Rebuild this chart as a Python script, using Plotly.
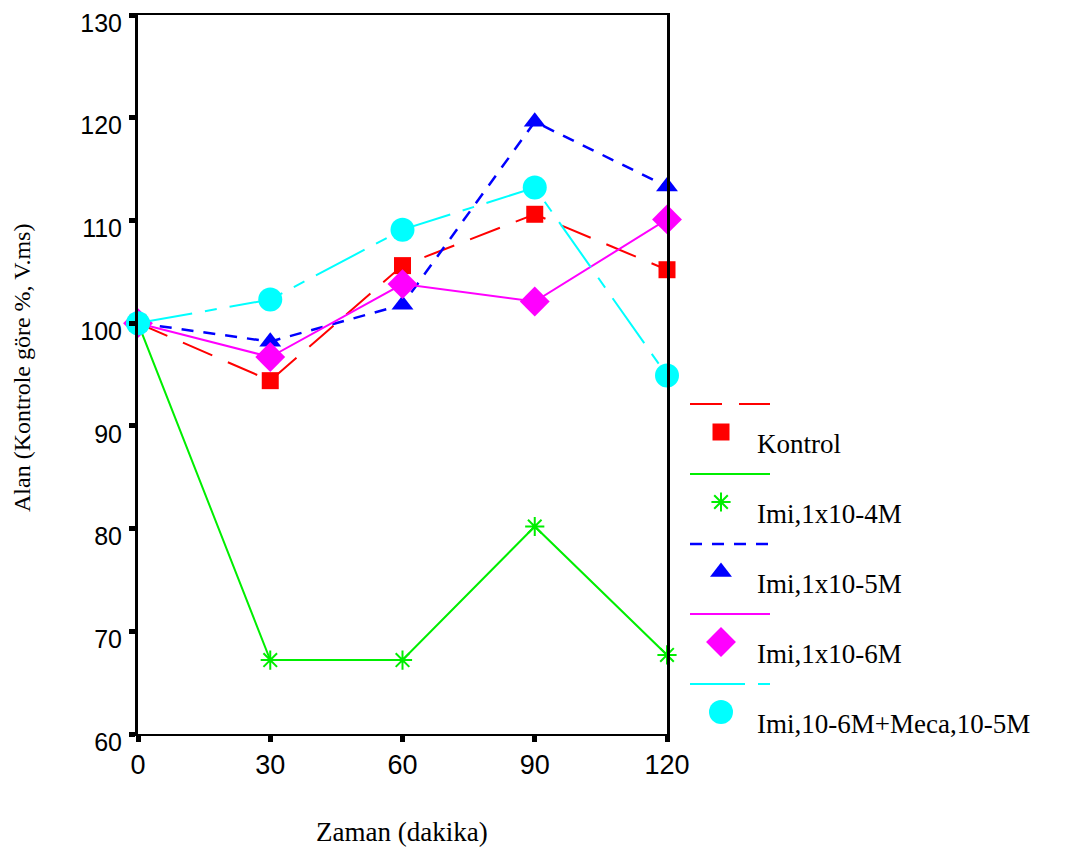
import plotly.graph_objects as go

# ---- data ----
zaman = [0, 30, 60, 90, 120]
kontrol = [100, 94.4, 105.6, 110.6, 105.2]
imi_1e4 = [100, 67.2, 67.2, 80.2, 67.7]
imi_1e5 = [100, 98.2, 101.8, 119.6, 113.3]
imi_1e6 = [100, 96.7, 103.8, 102.1, 110.1]
imi_meca = [100, 102.3, 109.1, 113.2, 94.9]

series_names = ["Kontrol", "Imi,1x10-4M", "Imi,1x10-5M", "Imi,1x10-6M", "Imi,10-6M+Meca,10-5M"]
series_values = [kontrol, imi_1e4, imi_1e5, imi_1e6, imi_meca]

y_ticks = [60, 70, 80, 90, 100, 110, 120, 130]
x_ticks = [0, 30, 60, 90, 120]

# ---- styles ----
styles = [
    dict(color="#ff0000", dash="32px,17px", width=2, symbol="square", msize=17, mline=0),
    dict(color="#00ee00", dash="solid", width=2, symbol="asterisk-open", msize=16, mline=2),
    dict(color="#0000ff", dash="12px,10px", width=2.5, symbol="triangle-up", msize=19, mline=0),
    dict(color="#ff00ff", dash="solid", width=2, symbol="diamond", msize=23, mline=0),
    dict(color="#00ffff", dash="55px,13px,12px,13px", width=2, symbol="circle", msize=24, mline=0),
]

W, H = 1075, 852
OFF = 8  # page body margin offset
L, R, T, B = 138 - OFF, 667 - OFF, 15 - OFF, 734 - OFF

fig = go.Figure()
for name, vals, st in zip(series_names, series_values, styles):
    fig.add_trace(go.Scatter(
        x=zaman, y=vals, mode="lines+markers", name=name, showlegend=False,
        cliponaxis=False,
        line=dict(color=st["color"], dash=st["dash"], width=st["width"]),
        marker=dict(symbol=st["symbol"], size=st["msize"], color=st["color"],
                    line=dict(color=st["color"], width=st["mline"])),
        xaxis="x", yaxis="y",
    ))

# ---- manual legend (layout positions in pixel space of overlay axis) ----
leg_x0, leg_x1 = 690 - OFF, 770 - OFF
leg_y0, leg_dy = 404 - OFF, 70
shapes = []
annotations = []
for i, (name, st) in enumerate(zip(series_names, styles)):
    yl = leg_y0 + i * leg_dy
    shapes.append(dict(type="line", xref="x2", yref="y2", x0=leg_x0, x1=leg_x1, y0=yl, y1=yl,
                       line=dict(color=st["color"], width=st["width"], dash=st["dash"])))
    fig.add_trace(go.Scatter(
        x=[721 - OFF], y=[yl + 28], mode="markers", showlegend=False, hoverinfo="skip",
        cliponaxis=False,
        marker=dict(symbol=st["symbol"], size=st["msize"], color=st["color"],
                    line=dict(color=st["color"], width=st["mline"])),
        xaxis="x2", yaxis="y2",
    ))
    annotations.append(dict(xref="x2", yref="y2", x=755 - OFF, y=yl + 40, text=name, showarrow=False,
                            xanchor="left", yanchor="middle",
                            font=dict(family="Liberation Serif", size=27, color="black")))

annotations.append(dict(xref="x2", yref="y2", x=402 - OFF, y=832 - OFF, text="Zaman (dakika)",
                        showarrow=False, xanchor="center", yanchor="middle",
                        font=dict(family="Liberation Serif", size=27, color="black")))
annotations.append(dict(xref="x2", yref="y2", x=22 - OFF, y=368 - OFF, text="Alan (Kontrole göre %, V.ms)",
                        showarrow=False, textangle=-90, xanchor="center", yanchor="middle",
                        font=dict(family="Liberation Serif", size=24, color="black")))

fig.update_layout(
    width=W, height=H,
    margin=dict(l=0, r=0, t=0, b=0, pad=0, autoexpand=False),
    paper_bgcolor="white", plot_bgcolor="rgba(0,0,0,0)",
    showlegend=False,
    xaxis=dict(domain=[L / W, R / W], range=[0, 120], tickvals=x_ticks, automargin=False,
               showgrid=False, zeroline=False, showline=True, linecolor="black", linewidth=2,
               mirror=True, ticks="outside", ticklen=6, tickwidth=5, tickcolor="black",
               tickfont=dict(family="Liberation Sans", size=27, color="black"),
               anchor="y"),
    yaxis=dict(domain=[1 - B / H, 1 - T / H], range=[60, 130], tickvals=y_ticks, automargin=False,
               showgrid=False, zeroline=False, showline=True, linecolor="black", linewidth=3,
               mirror=True, ticks="outside", ticklen=6, tickwidth=5, tickcolor="black",
               tickfont=dict(family="Liberation Sans", size=25, color="black"),
               ticklabelstandoff=2, ticklabelshift=8, ticklabeloverflow="allow", anchor="x"),
    xaxis2=dict(domain=[0, 1], range=[0, W], visible=False, anchor="y2", automargin=False),
    yaxis2=dict(domain=[0, 1], range=[H, 0], visible=False, anchor="x2", automargin=False),
    shapes=shapes,
    annotations=annotations,
)

fig.write_html("out.html")
